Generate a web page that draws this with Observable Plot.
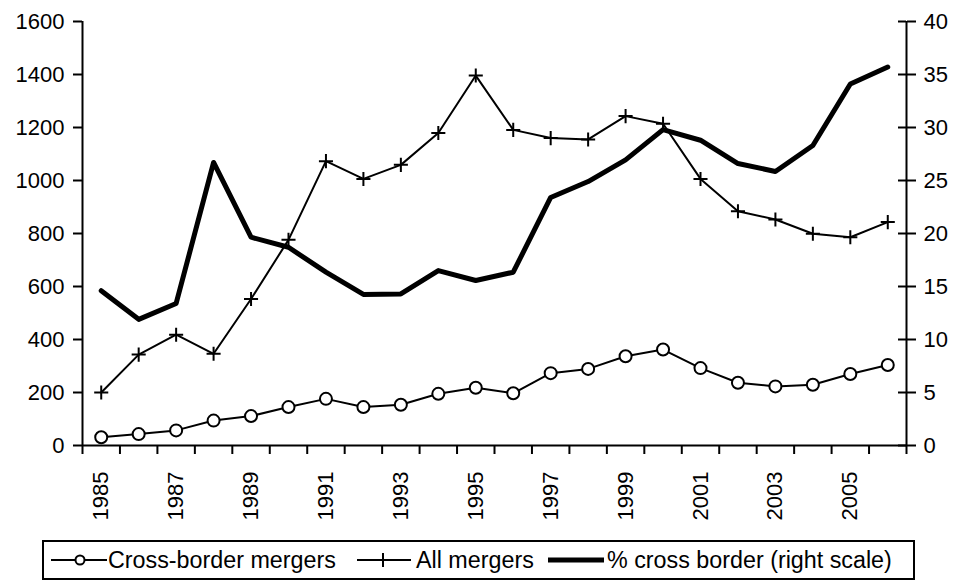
<!DOCTYPE html>
<html>
<head>
<meta charset="utf-8">
<script src="https://cdn.jsdelivr.net/npm/d3@7"></script>
<script src="https://cdn.jsdelivr.net/npm/@observablehq/plot@0.6"></script>
<style>
  body { margin: 0; background: #fff; font-family: "Liberation Sans", Arial, sans-serif; }
  #wrap { position: relative; width: 957px; height: 581px; overflow: hidden; }
  #legend { position: absolute; left: 42px; top: 540px; width: 873px; height: 40px; border: 2px solid #000; box-sizing: border-box; font-size: 23.3px; color: #000; }
  #legend .el { position: absolute; top: 0; height: 36px; display: flex; align-items: center; white-space: nowrap; }
  #legend svg { display: block; }
</style>
</head>
<body>
<div id="wrap">
  <div id="chart"></div>
  <div id="legend"></div>
</div>
<script>
const years = d3.range(1985, 2007);
const crossBorder = [31, 43, 57, 94, 111, 145, 176, 145, 154, 195, 218, 197, 273, 289, 337, 362, 292, 237, 223, 229, 270, 304];
const allMergers = [200, 343, 418, 346, 553, 776, 1073, 1006, 1059, 1179, 1396, 1191, 1160, 1155, 1243, 1214, 1006, 884, 853, 799, 786, 843];
const pctCross = [14.6, 11.9, 13.4, 26.7, 19.65, 18.7, 16.35, 14.25, 14.3, 16.5, 15.57, 16.35, 23.4, 24.9, 26.95, 29.8, 28.8, 26.6, 25.85, 28.3, 34.1, 35.7];
const leftTicks = [0, 200, 400, 600, 800, 1000, 1200, 1400, 1600];
const rightScaleFactor = 40; // 1600 / 40
const yearLabels = d3.range(1985, 2006, 2);
const seriesNames = ["Cross-border mergers", "All mergers", "% cross border (right scale)"];

const data = years.map((y, i) => ({year: y, cb: crossBorder[i], all: allMergers[i], pct: pctCross[i]}));
const bounds = d3.range(years[0] - 0.5, years[years.length - 1] + 1, 1);

const chart = Plot.plot({
  width: 957,
  height: 535,
  marginLeft: 82,
  marginRight: 51,
  marginTop: 21,
  marginBottom: 90,
  style: {fontFamily: "'Liberation Sans', Arial, sans-serif", fontSize: "22px", color: "#000", background: "#fff"},
  x: {domain: [years[0] - 0.5, years[years.length - 1] + 0.5]},
  y: {domain: [0, 1600]},
  marks: [
    Plot.axisY({ticks: leftTicks, tickSize: 9, tickPadding: 9, tickFormat: d => String(d), strokeWidth: 2, label: null}),
    Plot.axisY({anchor: "right", ticks: leftTicks, tickSize: 9, tickPadding: 8, tickFormat: d => String(d / rightScaleFactor), strokeWidth: 2, label: null}),
    Plot.tickY(leftTicks, {y: d => d, insetLeft: 816, stroke: "#000", strokeWidth: 2}),
    Plot.axisX({ticks: bounds, tickSize: 9, tickFormat: () => "", strokeWidth: 2, label: null}),
    Plot.axisX({ticks: yearLabels, tickSize: 0, tickPadding: 26, tickRotate: -90, tickFormat: d => String(d), label: null}),
    Plot.ruleX([bounds[0], bounds[bounds.length - 1]], {stroke: "#000", strokeWidth: 2}),
    Plot.ruleY([0], {stroke: "#000", strokeWidth: 2}),
    Plot.line(data, {x: "year", y: d => d.pct * rightScaleFactor, stroke: "#000", strokeWidth: 5}),
    Plot.line(data, {x: "year", y: "all", stroke: "#000", strokeWidth: 2}),
    Plot.dot(data, {x: "year", y: "all", symbol: "plus", r: 4.6, stroke: "#000", strokeWidth: 2}),
    Plot.line(data, {x: "year", y: "cb", stroke: "#000", strokeWidth: 2}),
    Plot.dot(data, {x: "year", y: "cb", r: 6, fill: "#fff", stroke: "#000", strokeWidth: 2})
  ]
});
document.getElementById("chart").appendChild(chart);

const legendItems = [
  {label: seriesNames[0], symLeft: 7, textLeft: 64, sym: `<svg width="56" height="20"><line x1="0" y1="10" x2="56" y2="10" stroke="#000" stroke-width="2"/><circle cx="29" cy="10" r="4.5" fill="#fff" stroke="#000" stroke-width="2"/></svg>`},
  {label: seriesNames[1], symLeft: 313, textLeft: 372, sym: `<svg width="54" height="20"><line x1="0" y1="10" x2="54" y2="10" stroke="#000" stroke-width="2"/><line x1="26" y1="3" x2="26" y2="17" stroke="#000" stroke-width="2"/></svg>`},
  {label: seriesNames[2], symLeft: 504, textLeft: 563, sym: `<svg width="56" height="20"><line x1="0" y1="10" x2="56" y2="10" stroke="#000" stroke-width="5"/></svg>`}
];
const leg = document.getElementById("legend");
legendItems.forEach(it => {
  const s = document.createElement("div");
  s.className = "el";
  s.style.left = it.symLeft + "px";
  s.innerHTML = it.sym;
  leg.appendChild(s);
  const t = document.createElement("div");
  t.className = "el";
  t.style.left = it.textLeft + "px";
  t.textContent = it.label;
  leg.appendChild(t);
});
</script>
</body>
</html>
